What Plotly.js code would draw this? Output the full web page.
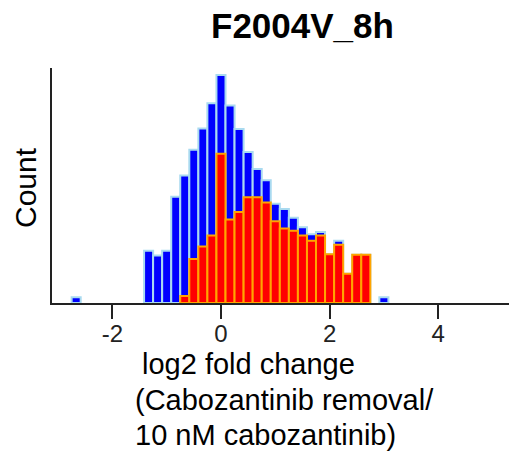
<!DOCTYPE html>
<html>
<head>
<meta charset="utf-8">
<script src="https://cdn.plot.ly/plotly-3.0.1.min.js"></script>
<style>html,body{margin:0;padding:0;background:#fff;}</style>
</head>
<body>
<div id="chart" style="width:509px;height:463px;"></div>
<script>
// Bin centres (bin width 1/6 log2 units)
var allCenters = [-2.667, -1.333, -1.167, -1.0, -0.833, -0.667, -0.5, -0.333, -0.167, 0.0,
  0.167, 0.333, 0.5, 0.667, 0.833, 1.0, 1.167, 1.333, 1.5, 1.667, 1.833, 2.0, 2.167,
  2.333, 2.5, 2.667, 3.0];
var allCounts = [1.0, 8.9, 8.1, 8.9, 18.1, 21.7, 26.1, 29.7, 34.0, 38.8,
  33.6, 29.6, 25.7, 22.8, 20.9, 16.9, 16.0, 14.5, 12.9, 11.7, 12.1, 8.3, 10.6,
  5.0, 8.2, 8.2, 1.0];
var subCenters = [-0.667, -0.5, -0.333, -0.167, 0.0, 0.167, 0.333, 0.5, 0.667, 0.833,
  1.0, 1.167, 1.333, 1.5, 1.667, 1.833, 2.0, 2.167, 2.333, 2.5, 2.667];
var subCounts = [1.2, 7.5, 9.6, 11.5, 25.4, 14.2, 15.5, 18.0, 18.0, 17.1,
  13.9, 12.7, 12.3, 11.5, 10.6, 11.5, 8.3, 9.9, 5.0, 8.2, 8.2];
var binWidth = 1/6;
var tickVals = [-2, 0, 2, 4];
var tickText = ['-2', '0', '2', '4'];
var chartTitle = 'F2004V_8h';
var yTitle = 'Count';
var xTitleLines = ['log2 fold change', '(Cabozantinib removal/', '10 nM cabozantinib)'];

var FONT = 'Liberation Sans, Arial, sans-serif';
var traces = [
  {type: 'bar', x: allCenters, y: allCounts, width: binWidth,
   marker: {color: '#0000ff', line: {color: '#a9daf0', width: 2}}, hoverinfo: 'none'},
  {type: 'bar', x: subCenters, y: subCounts, width: binWidth,
   marker: {color: '#ff0000', line: {color: '#ffa500', width: 2}}, hoverinfo: 'none'}
];

var L = 52, T = 68, B = 160, W = 509, H = 463;
var pw = W - L, ph = H - T - B;
function px(x) { return (x - L) / pw; }
function py(y) { return (H - B - y) / ph; }

var layout = {
  width: W, height: H,
  margin: {l: L, r: 0, t: T, b: B, pad: 0},
  paper_bgcolor: '#fff', plot_bgcolor: '#fff',
  barmode: 'overlay', bargap: 0,
  showlegend: false,
  font: {family: FONT, color: '#222'},
  xaxis: {range: [-3.112, 5.304], tickvals: tickVals, ticktext: tickText,
    ticks: 'outside', ticklen: 14, tickwidth: 2, tickcolor: '#222', ticklabelstandoff: -6,
    showline: true, linecolor: '#222', linewidth: 2, showgrid: false, zeroline: false,
    tickfont: {family: FONT, size: 24, color: '#222'}},
  yaxis: {range: [0, 40], showticklabels: false, ticks: '', showline: true,
    linecolor: '#222', linewidth: 2, showgrid: false, zeroline: false},
  annotations: [
    {text: '<b>' + chartTitle + '</b>', xref: 'paper', yref: 'paper', x: px(302), y: py(25),
     xanchor: 'center', yanchor: 'middle', showarrow: false, font: {family: FONT, size: 35, color: '#000'}},
    {text: yTitle, xref: 'paper', yref: 'paper', x: px(25), y: py(188), textangle: -90,
     xanchor: 'center', yanchor: 'middle', showarrow: false, font: {family: FONT, size: 30, color: '#000'}},
    {text: xTitleLines[0], xref: 'paper', yref: 'paper', x: px(140), y: py(364),
     xanchor: 'left', yanchor: 'middle', showarrow: false, font: {family: FONT, size: 29, color: '#000'}},
    {text: xTitleLines[1], xref: 'paper', yref: 'paper', x: px(133), y: py(400),
     xanchor: 'left', yanchor: 'middle', showarrow: false, font: {family: FONT, size: 29, color: '#000'}},
    {text: xTitleLines[2], xref: 'paper', yref: 'paper', x: px(133), y: py(435),
     xanchor: 'left', yanchor: 'middle', showarrow: false, font: {family: FONT, size: 29, color: '#000'}}
  ]
};
Plotly.newPlot('chart', traces, layout, {displayModeBar: false, staticPlot: true});
</script>
</body>
</html>
